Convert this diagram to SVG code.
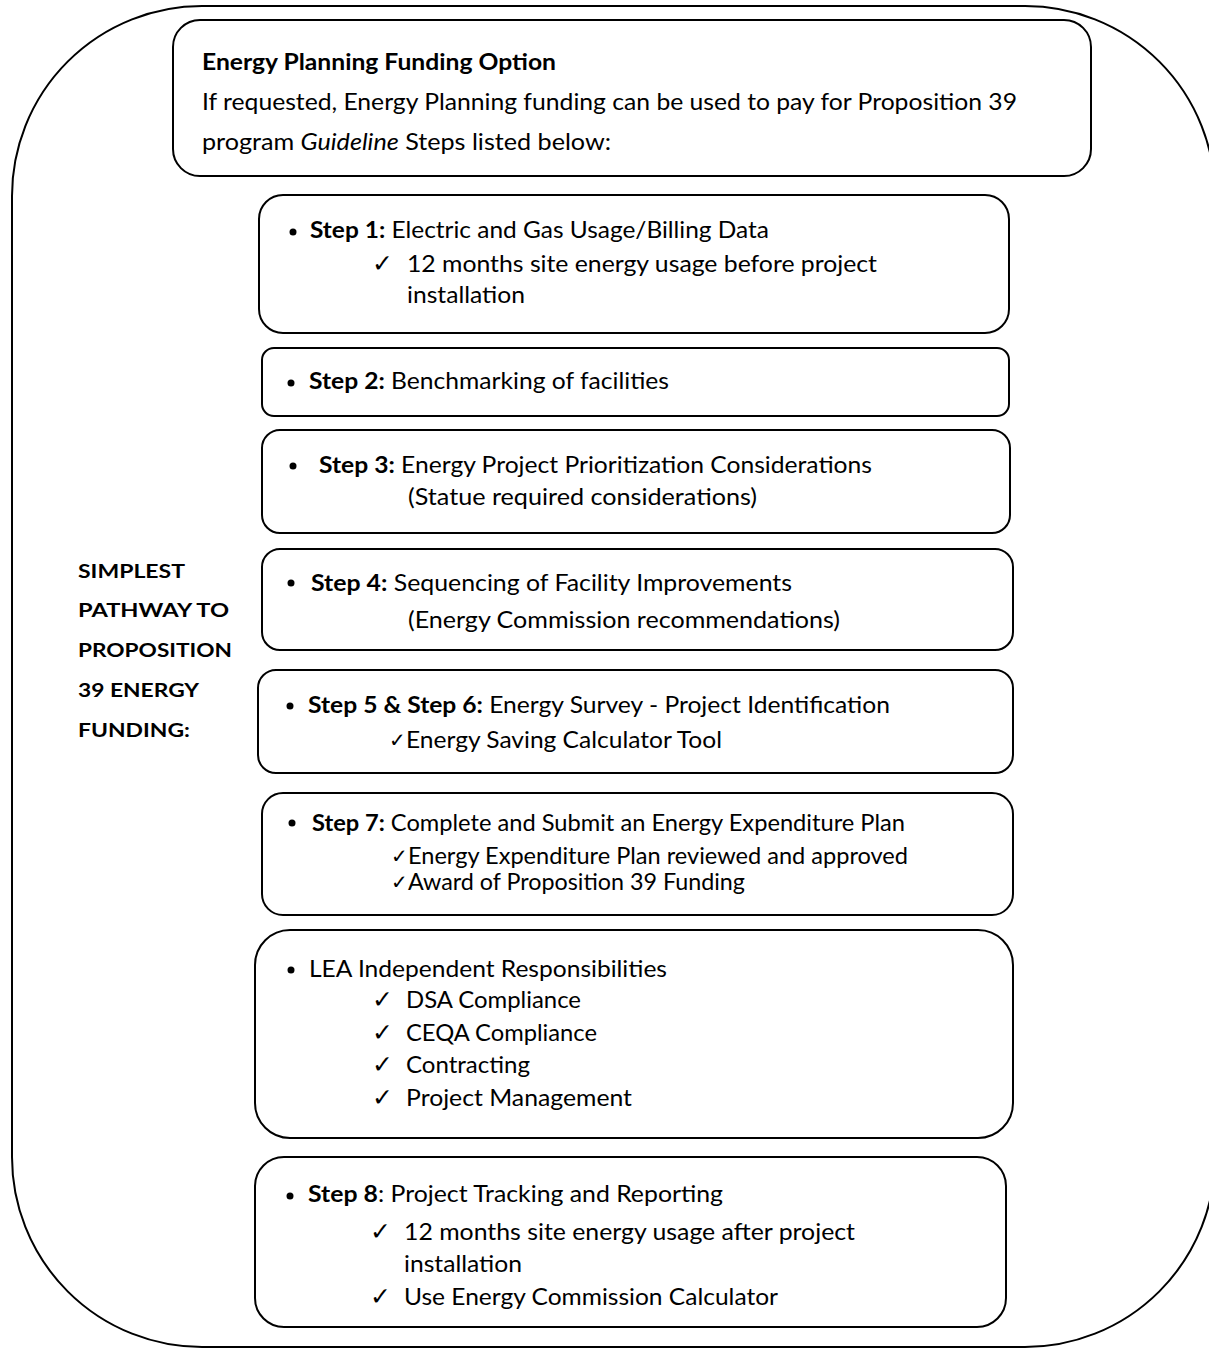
<svg xmlns="http://www.w3.org/2000/svg" width="1209" height="1348" viewBox="0 0 1209 1348">
<defs>
<style>
.box{fill:#fff;stroke:#000;stroke-width:2}
.outer{fill:none;stroke:#000;stroke-width:2}
.t{font-family:Lato,"Open Sans","Liberation Sans",sans-serif;font-size:23px;fill:#000}
.b{font-weight:bold}
.i{font-style:italic}
.lbl{font-family:Lato,"Open Sans","Liberation Sans",sans-serif;font-size:19.5px;font-weight:bold;fill:#000}
.ck{font-family:"DejaVu Sans","Liberation Sans",sans-serif;font-size:25px;fill:#000}
.cks{font-family:"DejaVu Sans","Liberation Sans",sans-serif;font-size:20px;fill:#000}
.dot{fill:#000}
</style>
<clipPath id="clip7"><rect x="260" y="790" width="760" height="107"/></clipPath>
<clipPath id="clip8"><rect x="250" y="1150" width="770" height="159"/></clipPath>
</defs>

<g id="outer">
<rect class="outer" x="12" y="6" width="1203" height="1341" rx="190" ry="190"/>
</g>

<g id="connectors"></g>

<g id="label">
<text class="lbl" x="78" y="578" textLength="107" lengthAdjust="spacingAndGlyphs">SIMPLEST</text>
<text class="lbl" x="78" y="617" textLength="151" lengthAdjust="spacingAndGlyphs">PATHWAY TO</text>
<text class="lbl" x="78" y="657" textLength="154" lengthAdjust="spacingAndGlyphs">PROPOSITION</text>
<text class="lbl" x="78" y="697" textLength="121" lengthAdjust="spacingAndGlyphs">39 ENERGY</text>
<text class="lbl" x="78" y="737" textLength="112" lengthAdjust="spacingAndGlyphs">FUNDING:</text>
</g>

<g id="funding-option">
<rect class="box" x="173" y="20" width="918" height="156" rx="27" ry="27"/>
<text class="t b" x="202" y="70" textLength="354" lengthAdjust="spacingAndGlyphs">Energy Planning Funding Option</text>
<text class="t" x="202" y="110" textLength="815" lengthAdjust="spacingAndGlyphs">If requested, Energy Planning funding can be used to pay for Proposition 39</text>
<text class="t" x="202" y="150" textLength="409" lengthAdjust="spacingAndGlyphs">program <tspan class="i">Guideline</tspan> Steps listed below:</text>
</g>

<g id="step1">
<rect class="box" x="259" y="195" width="750" height="138" rx="24" ry="24"/>
<circle class="dot" cx="293" cy="232" r="3.5"/>
<text class="t" x="310" y="238" textLength="459" lengthAdjust="spacingAndGlyphs"><tspan class="b">Step 1:</tspan> Electric and Gas Usage/Billing Data</text>
<text class="ck" x="372" y="272">✓</text>
<text class="t" x="407" y="272" textLength="470" lengthAdjust="spacingAndGlyphs">12 months site energy usage before project</text>
<text class="t" x="407" y="303" textLength="118" lengthAdjust="spacingAndGlyphs">installation</text>
</g>

<g id="step2">
<rect class="box" x="262" y="348" width="747" height="68" rx="12" ry="12"/>
<circle class="dot" cx="291" cy="383" r="3.5"/>
<text class="t" x="309" y="389" textLength="360" lengthAdjust="spacingAndGlyphs"><tspan class="b">Step 2:</tspan> Benchmarking of facilities</text>
</g>

<g id="step3">
<rect class="box" x="262" y="430" width="748" height="103" rx="18" ry="18"/>
<circle class="dot" cx="293" cy="466" r="3.5"/>
<text class="t" x="319" y="473" textLength="553" lengthAdjust="spacingAndGlyphs"><tspan class="b">Step 3:</tspan> Energy Project Prioritization Considerations</text>
<text class="t" x="408" y="505" textLength="349" lengthAdjust="spacingAndGlyphs">(Statue required considerations)</text>
</g>

<g id="step4">
<rect class="box" x="262" y="549" width="751" height="101" rx="18" ry="18"/>
<circle class="dot" cx="291" cy="583" r="3.5"/>
<text class="t" x="311" y="591" textLength="481" lengthAdjust="spacingAndGlyphs"><tspan class="b">Step 4:</tspan> Sequencing of Facility Improvements</text>
<text class="t" x="408" y="628" textLength="432" lengthAdjust="spacingAndGlyphs">(Energy Commission recommendations)</text>
</g>

<g id="step5-6">
<rect class="box" x="258" y="670" width="755" height="103" rx="18" ry="18"/>
<circle class="dot" cx="290" cy="706" r="3.5"/>
<text class="t" x="308" y="713" textLength="582" lengthAdjust="spacingAndGlyphs"><tspan class="b">Step 5 &amp; Step 6:</tspan> Energy Survey - Project Identification</text>
<text class="cks" x="389" y="747">✓</text>
<text class="t" x="406" y="748" textLength="316" lengthAdjust="spacingAndGlyphs">Energy Saving Calculator Tool</text>
</g>

<g id="step7">
<rect class="box" x="262" y="793" width="751" height="122" rx="21" ry="21"/>
<circle class="dot" cx="292" cy="823" r="3.5"/>
<text class="t" x="312" y="831" textLength="593" lengthAdjust="spacingAndGlyphs"><tspan class="b">Step 7:</tspan> Complete and Submit an Energy Expenditure Plan</text>
<text class="cks" x="391" y="863">✓</text>
<text class="t" x="408" y="864" textLength="500" lengthAdjust="spacingAndGlyphs">Energy Expenditure Plan reviewed and approved</text>
<g clip-path="url(#clip7)">
<text class="cks" x="391" y="889">✓</text>
<text class="t" x="408" y="890" textLength="337" lengthAdjust="spacingAndGlyphs">Award of Proposition 39 Funding</text>
</g>
</g>

<g id="lea">
<rect class="box" x="255" y="930" width="758" height="208" rx="35" ry="35"/>
<circle class="dot" cx="291" cy="970" r="3.5"/>
<text class="t" x="309" y="977" textLength="358" lengthAdjust="spacingAndGlyphs">LEA Independent Responsibilities</text>
<text class="ck" x="372" y="1008">✓</text>
<text class="t" x="406" y="1008" textLength="175" lengthAdjust="spacingAndGlyphs">DSA Compliance</text>
<text class="ck" x="372" y="1041">✓</text>
<text class="t" x="406" y="1041" textLength="191" lengthAdjust="spacingAndGlyphs">CEQA Compliance</text>
<text class="ck" x="372" y="1073">✓</text>
<text class="t" x="406" y="1073" textLength="124" lengthAdjust="spacingAndGlyphs">Contracting</text>
<text class="ck" x="372" y="1106">✓</text>
<text class="t" x="406" y="1106" textLength="226" lengthAdjust="spacingAndGlyphs">Project Management</text>
</g>

<g id="step8">
<rect class="box" x="255" y="1157" width="751" height="170" rx="29" ry="29"/>
<circle class="dot" cx="290" cy="1196" r="3.5"/>
<text class="t" x="308" y="1202" textLength="415" lengthAdjust="spacingAndGlyphs"><tspan class="b">Step 8</tspan>: Project Tracking and Reporting</text>
<text class="ck" x="370" y="1240">✓</text>
<text class="t" x="404" y="1240" textLength="451" lengthAdjust="spacingAndGlyphs">12 months site energy usage after project</text>
<text class="t" x="404" y="1272" textLength="118" lengthAdjust="spacingAndGlyphs">installation</text>
<g clip-path="url(#clip8)">
<text class="ck" x="370" y="1305">✓</text>
<text class="t" x="404" y="1305" textLength="374" lengthAdjust="spacingAndGlyphs">Use Energy Commission Calculator</text>
</g>
</g>
</svg>
